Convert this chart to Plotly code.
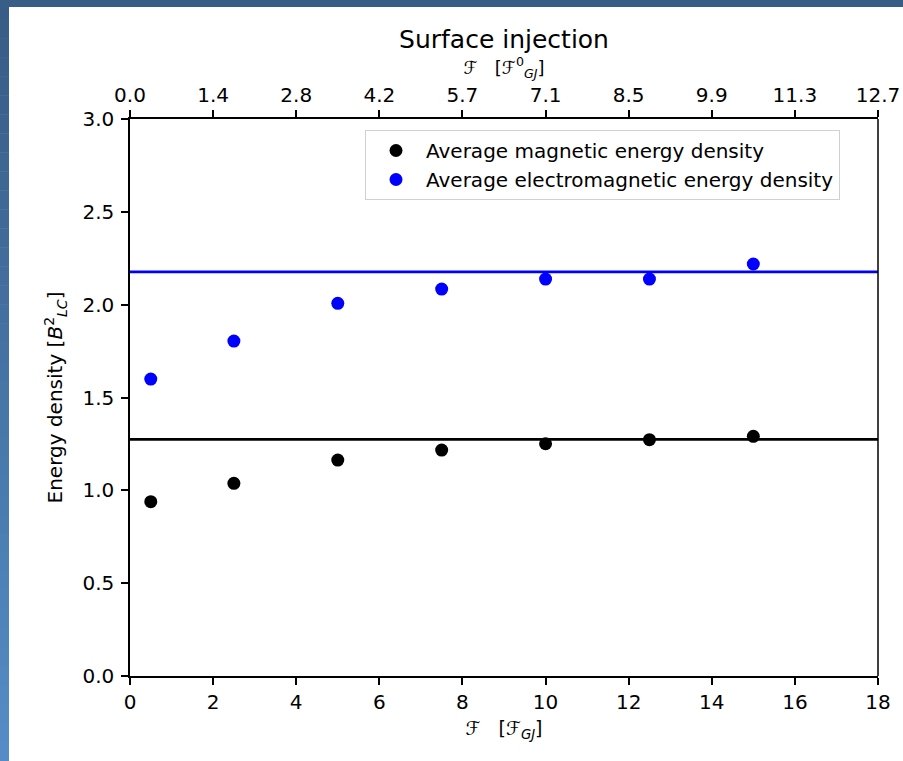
import plotly.graph_objects as go

# ---- data ----
flux = [0.5, 2.5, 5.0, 7.5, 10.0, 12.5, 15.0]
mag_energy = [0.939, 1.038, 1.163, 1.217, 1.251, 1.273, 1.291]
em_energy = [1.599, 1.804, 2.007, 2.084, 2.138, 2.138, 2.219]
mag_mean = 1.274
em_mean = 2.177
line_x = [0, 18]
bottom_ticks = [0, 2, 4, 6, 8, 10, 12, 14, 16, 18]
top_ticktext = ["0.0", "1.4", "2.8", "4.2", "5.7", "7.1", "8.5", "9.9", "11.3", "12.7"]
y_ticks = [0.0, 0.5, 1.0, 1.5, 2.0, 2.5, 3.0]

W, H = 903, 761
L, R, T, B = 130, 25, 119, 85
PW, PH = W - L - R, H - T - B
FONT = "DejaVu Sans"
FS = 20


def fx(px):
    return (px - L) / PW


def fy(py):
    return (H - B - py) / PH


fig = go.Figure()

fig.add_trace(go.Scatter(x=line_x, y=[em_mean, em_mean], mode="lines",
                         line=dict(color="#0000ff", width=2.7), showlegend=False,
                         hoverinfo="skip"))
fig.add_trace(go.Scatter(x=line_x, y=[mag_mean, mag_mean], mode="lines",
                         line=dict(color="#000000", width=2.7), showlegend=False,
                         hoverinfo="skip"))
fig.add_trace(go.Scatter(x=flux, y=mag_energy, mode="markers",
                         marker=dict(color="#000000", size=13),
                         name="Average magnetic energy density"))
fig.add_trace(go.Scatter(x=flux, y=em_energy, mode="markers",
                         marker=dict(color="#0000ff", size=13),
                         name="Average electromagnetic energy density"))
# invisible trace to activate the top axis
fig.add_trace(go.Scatter(x=line_x, y=[0, 0], mode="lines", xaxis="x2",
                         line=dict(width=0), showlegend=False, hoverinfo="skip",
                         opacity=0))

# ---- screenshot frame (blue border) ----
shapes = []
n = 40
top_c = (0x37, 0x5b, 0x85)
bot_c = (0x55, 0x8d, 0xc6)
for i in range(n):
    y0 = H * i / n
    y1 = H * (i + 1) / n + 0.5
    t = (i + 0.5) / n
    c = tuple(int(round(top_c[k] + (bot_c[k] - top_c[k]) * t)) for k in range(3))
    shapes.append(dict(type="rect", xref="paper", yref="paper",
                       x0=fx(0), x1=fx(9), y0=fy(y1), y1=fy(y0),
                       fillcolor="rgb(%d,%d,%d)" % c, line=dict(width=0), layer="above"))
shapes.append(dict(type="rect", xref="paper", yref="paper",
                   x0=fx(0), x1=fx(W + 10), y0=fy(7), y1=fy(0),
                   fillcolor="rgb(56,93,135)", line=dict(width=0), layer="above"))
# right spine
shapes.append(dict(type="line", xref="paper", yref="paper", x0=1, x1=1, y0=0, y1=1,
                   line=dict(color="#000000", width=1.5)))

axis_common = dict(showline=True, linecolor="#000000", linewidth=1.5, mirror=False,
                   ticks="outside", ticklen=7, tickwidth=1.5, tickcolor="#000000",
                   showgrid=False, zeroline=False, automargin=False,
                   tickfont=dict(family=FONT, size=FS, color="#000000"))

fig.update_layout(
    width=W, height=H, autosize=False,
    margin=dict(l=L, r=R, t=T, b=B, pad=0, autoexpand=False),
    paper_bgcolor="white", plot_bgcolor="white",
    font=dict(family=FONT, size=FS, color="#000000"),
    title=dict(text="Surface injection", x=504 / W, xanchor="center", xref="container",
               y=1 - 39 / H, yanchor="middle", yref="container",
               font=dict(family=FONT, size=25, color="#000000")),
    xaxis=dict(range=[0, 18], tickvals=bottom_ticks,
               title=dict(text="<i>ℱ</i>   [<i>ℱ</i><sub><i>GJ</i></sub>]",
                          font=dict(family=FONT, size=19), standoff=9),
               **axis_common),
    xaxis2=dict(range=[0, 18], overlaying="x", side="top", tickvals=bottom_ticks,
                ticktext=top_ticktext,
                title=dict(text="<i>ℱ</i>   [<i>ℱ</i><sup>0</sup><sub><i>GJ</i></sub>]",
                           font=dict(family=FONT, size=18), standoff=4),
                **axis_common),
    yaxis=dict(range=[0, 3], tickvals=y_ticks, tickformat=".1f", ticklabelstandoff=3,
               title=dict(text="Energy density [<i>B</i><sup>2</sup><sub><i>LC</i></sub>]",
                          font=dict(family=FONT, size=FS), standoff=14),
               **axis_common),
    legend=dict(x=fx(840), xanchor="right", y=fy(130), yanchor="top",
                bgcolor="white", bordercolor="#d0d0d0", borderwidth=1,
                itemwidth=50,
                font=dict(family=FONT, size=FS, color="#000000")),
    shapes=shapes,
)

fig.write_html("out.html", config={"responsive": False},
               default_width="903px", default_height="761px",
               post_script="document.body.style.margin='0';document.body.style.overflow='hidden';")
